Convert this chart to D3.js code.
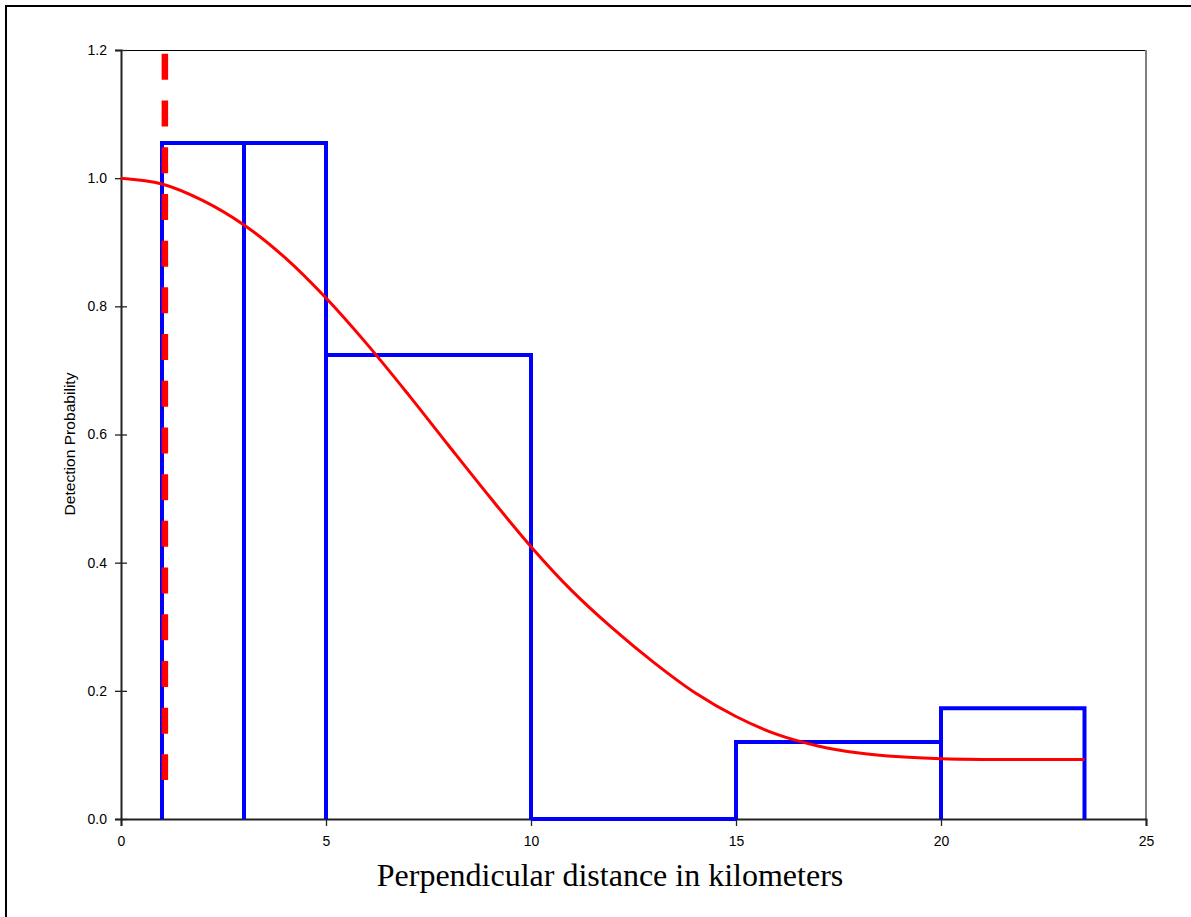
<!DOCTYPE html>
<html><head><meta charset="utf-8">
<script src="https://cdn.jsdelivr.net/npm/d3@7"></script>
<style>body{margin:0;background:#fff}svg{display:block}</style>
</head><body>
<script>
// Histogram bins (km) and heights
const binStarts = [1, 3, 5, 10, 15, 20];
const binEnds   = [3, 5, 10, 15, 20, 23.5];
const binHeights = [1.055, 1.055, 0.724, 0, 0.120, 0.173];
// Fitted detection curve
const curveX = [0, 1, 2, 3, 4, 5, 6, 7, 8, 9, 10, 11, 12, 13, 14, 15, 16, 17, 18, 19, 20, 21, 22, 23.5];
const curveY = [1.0, 0.991, 0.965, 0.927, 0.876, 0.813, 0.741, 0.663, 0.582, 0.502, 0.425, 0.356, 0.297, 0.244, 0.197, 0.160, 0.132, 0.114, 0.103, 0.097, 0.094, 0.093, 0.093, 0.093];
// Dashed vertical line
const dashX = 1.07;
const dashY = [0.061, 1.194];
const xTicks = [0, 5, 10, 15, 20, 25];
const yTicks = [0, 0.2, 0.4, 0.6, 0.8, 1.0, 1.2];

const W = 1191, H = 917;
const svg = d3.select("body").append("svg").attr("width", W).attr("height", H);
svg.append("rect").attr("x", 6).attr("y", 6).attr("width", 1300).attr("height", 1100)
  .attr("fill", "#fff").attr("stroke", "#000").attr("stroke-width", 2);

const L = 121, R = 1146, T = 50, B = 819;
const x = d3.scaleLinear().domain([0, 25]).range([L, R]);
const y = d3.scaleLinear().domain([0, 1.2]).range([B, T]);

// plot frame top/right
svg.append("line").attr("x1", L).attr("x2", R).attr("y1", T + 0.5).attr("y2", T + 0.5).attr("stroke", "#000").attr("stroke-width", 1);
svg.append("line").attr("x1", R).attr("x2", R).attr("y1", T).attr("y2", B).attr("stroke", "#808080").attr("stroke-width", 2);

// axes
const xAxis = svg.append("g").attr("transform", `translate(0,${B})`)
  .call(d3.axisBottom(x).tickValues(xTicks).tickFormat(d3.format("d")).tickSize(7).tickPadding(10));
const yAxis = svg.append("g").attr("transform", `translate(${L},0)`)
  .call(d3.axisLeft(y).tickValues(yTicks).tickFormat(d3.format(".1f")).tickSize(6).tickPadding(7));
[xAxis, yAxis].forEach(g => {
  g.select(".domain").attr("stroke", "#222").attr("stroke-width", 2);
  g.selectAll(".tick line").attr("stroke", "#222").attr("stroke-width", 1.3);
  g.selectAll("text").attr("font-family", "Liberation Sans, Arial, sans-serif").attr("font-size", 14).attr("fill", "#000");
});
yAxis.selectAll(".tick line").attr("x2", 6).attr("x1", -6);
yAxis.selectAll(".tick text").attr("x", -14);

// histogram
const bins = binStarts.map((s, i) => ({s, e: binEnds[i], h: binHeights[i]}));
svg.append("g").selectAll("path").data(bins).join("path")
  .attr("d", d => `M${x(d.s)},${y(0)}V${y(d.h)}H${x(d.e)}V${y(0)}`)
  .attr("fill", "none").attr("stroke", "#0000ff").attr("stroke-width", 4).attr("stroke-linejoin", "miter");

// curve
const line = d3.line().x((d, i) => x(curveX[i])).y(d => y(d)).curve(d3.curveCatmullRom.alpha(0.5));
svg.append("path").attr("d", line(curveY)).attr("fill", "none").attr("stroke", "#ff0000").attr("stroke-width", 3);

// dashed line
svg.append("line").attr("x1", x(dashX)).attr("x2", x(dashX)).attr("y1", y(dashY[1])).attr("y2", y(dashY[0]))
  .attr("stroke", "#ff0000").attr("stroke-width", 6.5).attr("stroke-dasharray", "26,20.7");

// titles
svg.append("text").attr("x", 610).attr("y", 886).attr("text-anchor", "middle")
  .attr("font-family", "Liberation Serif, Times New Roman, serif").attr("font-size", 32).text("Perpendicular distance in kilometers");
svg.append("text").attr("transform", "translate(75,444) rotate(-90)").attr("text-anchor", "middle")
  .attr("font-family", "Liberation Sans, Arial, sans-serif").attr("font-size", 14)
  .attr("textLength", 143).attr("lengthAdjust", "spacingAndGlyphs").text("Detection Probability");
</script>
</body></html>
